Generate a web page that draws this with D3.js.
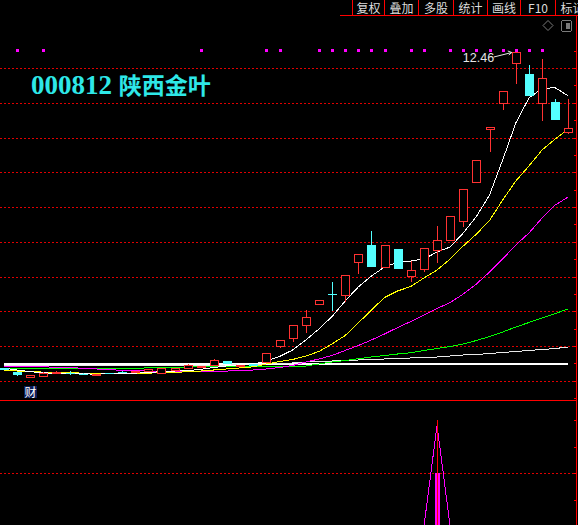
<!DOCTYPE html>
<html>
<head>
<meta charset="utf-8">
<script src="https://cdn.jsdelivr.net/npm/d3@7"></script>
<style>
  html, body { margin: 0; padding: 0; background: #000; overflow: hidden; }
  svg { display: block; }
</style>
</head>
<body>
<svg id="chart" width="578" height="525"></svg>
<script>
// Daily bars, oldest first
const openP  = [3.36,3.24,3.11,3.15,3.24,3.22,3.20,3.17,3.22,3.25,3.26,3.29,3.215,3.31,3.36,3.41,3.45,3.57,3.45,3.47,
                3.55,4.00,4.22,4.60,5.20,5.50,5.48,6.41,6.91,6.27,6.78,6.01,6.23,6.75,7.04,7.59,8.73,10.24,10.98,12.14,
                11.83,10.99,11.02,10.15];
const highP  = [3.37,3.25,3.17,3.24,3.27,3.27,3.21,3.20,3.23,3.27,3.29,3.34,3.37,3.37,3.47,3.43,3.62,3.58,3.46,3.48,
                3.79,4.17,4.60,5.04,5.32,5.84,6.04,6.65,7.31,6.91,6.78,6.45,6.81,7.45,7.74,8.51,9.36,10.30,11.33,12.46,
                12.10,12.26,11.11,11.12];
const lowP   = [3.33,3.14,3.10,3.14,3.22,3.17,3.18,3.16,3.20,3.23,3.25,3.28,3.20,3.30,3.35,3.40,3.44,3.50,3.44,3.42,
                3.51,3.93,4.12,4.37,5.20,5.02,5.28,6.06,6.28,6.25,6.25,5.85,6.12,6.38,7.04,7.43,8.70,9.59,10.79,11.53,
                11.23,10.48,10.53,10.09];
const closeP = [3.34,3.19,3.16,3.23,3.25,3.215,3.19,3.19,3.21,3.24,3.28,3.33,3.36,3.36,3.45,3.42,3.60,3.51,3.45,3.44,
                3.79,4.16,4.60,4.83,5.32,5.49,6.04,6.65,6.31,6.91,6.25,6.18,6.81,7.04,7.74,8.51,9.36,10.30,11.33,12.46,
                11.23,11.70,10.53,10.27];

// Moving averages
const ma5   = [3.36,3.31,3.26,3.23,3.21,3.20,3.20,3.19,3.20,3.21,3.22,3.24,3.26,3.28,3.29,3.33,3.38,3.43,3.46,3.48,
               3.568,3.698,3.885,4.173,4.489,4.849,5.295,5.698,6.014,6.273,6.403,6.446,6.504,6.705,6.849,7.252,7.727,8.345,9.353,10.417,
               11.137,11.41,11.433,11.194];
const ma10  = [3.30,3.28,3.26,3.25,3.24,3.23,3.22,3.21,3.21,3.21,3.21,3.22,3.23,3.24,3.26,3.28,3.31,3.34,3.37,3.40,
               3.482,3.554,3.612,3.712,3.842,4.058,4.302,4.662,5.036,5.396,5.583,5.712,5.957,6.187,6.504,6.878,7.223,7.612,8.201,8.748,
               9.180,9.640,9.957,10.245];
const ma20  = [3.42,3.42,3.41,3.40,3.39,3.38,3.36,3.34,3.32,3.30,3.29,3.28,3.27,3.27,3.26,3.26,3.27,3.28,3.29,3.31,
               3.338,3.381,3.439,3.540,3.626,3.727,3.871,4.014,4.173,4.345,4.532,4.705,4.892,5.079,5.252,5.496,5.784,6.129,6.504,6.906,
               7.252,7.683,8.058,8.288];
const ma60  = [3.36,3.36,3.36,3.36,3.355,3.355,3.355,3.355,3.36,3.36,3.36,3.37,3.38,3.39,3.395,3.40,3.405,3.41,3.41,3.41,
               3.410,3.410,3.424,3.424,3.482,3.540,3.583,3.635,3.683,3.727,3.770,3.807,3.871,3.928,3.986,4.058,4.158,4.273,4.403,4.547,
               4.676,4.806,4.935,5.065];
const ma120 = [3.45,3.45,3.45,3.45,3.45,3.45,3.45,3.45,3.45,3.45,3.45,3.45,3.45,3.45,3.45,3.45,3.45,3.45,3.46,3.47,
               3.482,3.496,3.511,3.540,3.554,3.568,3.583,3.597,3.612,3.626,3.640,3.655,3.669,3.683,3.712,3.741,3.755,3.784,3.813,3.842,
               3.871,3.899,3.928,3.971];
const ma250 = [3.48,3.48,3.48,3.48,3.48,3.48,3.48,3.48,3.48,3.48,3.48,3.48,3.48,3.48,3.48,3.48,3.48,3.48,3.48,3.48,
               3.48,3.48,3.48,3.48,3.48,3.48,3.48,3.48,3.48,3.48,3.48,3.48,3.48,3.48,3.48,3.48,3.48,3.48,3.48,3.48,
               3.48,3.48,3.48,3.48];

// Signal marks along the top of the price panel (bar indices)
const signalBars = [1,3,15,20,21,24,25,26,27,28,29,31,32,34,35,36,37,38,39,40,41];

// Lower indicator panel
const indLine  = [0,0,0,0,0,0,0,0,0,0,0,0,0,0,0,0,0,0,0,0,0,0,0,0,0,0,0,0,0,0,0,0,0,95,0,0,0,0,0,0,0,0,0,0];
const indBar   = [0,0,0,0,0,0,0,0,0,0,0,0,0,0,0,0,0,0,0,0,0,0,0,0,0,0,0,0,0,0,0,0,0,50,0,0,0,0,0,0,0,0,0,0];
const indStick = [0,0,0,0,0,0,0,0,0,0,0,0,0,0,0,0,0,0,0,0,0,0,0,0,0,0,0,0,0,0,0,0,0,100,0,0,0,0,0,0,0,0,0,0];

const priceGrid = [3,4,5,6,7,8,9,10,11,12];
const toolbarLabels = ["复权","叠加","多股","统计","画线","F10","标记"];
const stockCode = "000812";
const stockName = "陕西金叶";

// ---------------------------------------------------------------
const W = 578, H = 525;
const UP = "#ff3232", DOWN = "#54ffff", GRID = "#e00000", AXIS = "#ff0000";

const svg = d3.select("#chart").attr("shape-rendering", "crispEdges");
svg.append("rect").attr("width", W).attr("height", H).attr("fill", "#000");

// dotted rule used for the grid lines: 2px dot, 4px period
const defs = svg.append("defs");
defs.append("pattern").attr("id", "dotRule").attr("patternUnits", "userSpaceOnUse")
  .attr("width", 4).attr("height", 1)
  .append("rect").attr("width", 2).attr("height", 1).attr("fill", GRID);

const n = closeP.length;
const x = d3.scaleLinear().domain([0, n - 1]).range([3.9, 568.3]);
const y = d3.scaleLinear().domain([3, 12]).range([380.75, 68]);
const yi = d3.scaleLinear().domain([0, 100]).range([526.7, 420]);
const px = v => Math.round(v) + 0.5;

function dotRule(g, yy, x0, x1) {
  g.append("rect").attr("x", x0).attr("y", Math.round(yy)).attr("width", x1 - x0).attr("height", 1)
    .attr("fill", "url(#dotRule)");
}

// toolbar
const sepX = [352, 384, 418, 453, 487, 520, 555, 589];
const bar = svg.append("g");
bar.append("line").attr("x1", 340).attr("x2", W).attr("y1", 15.5).attr("y2", 15.5)
  .attr("stroke", AXIS);
sepX.slice(0, -1).forEach(sx => bar.append("line")
  .attr("x1", sx + 0.5).attr("x2", sx + 0.5).attr("y1", 0).attr("y2", 15).attr("stroke", AXIS));
bar.selectAll("text").data(toolbarLabels).join("text")
  .attr("x", (d, i) => (sepX[i] + sepX[i + 1]) / 2 + 0.5)
  .attr("y", 12.5)
  .attr("text-anchor", "middle")
  .attr("font-family", "'Noto Sans CJK SC', sans-serif")
  .attr("font-size", 12)
  .attr("fill", "#dcdcdc")
  .text(d => d);

// corner icons
svg.append("path").attr("d", "M548,20.5 L553,25.5 L548,30.5 L543,25.5 Z")
  .attr("fill", "none").attr("stroke", "#7a7a7a").attr("shape-rendering", "auto");
svg.append("rect").attr("x", 561.5).attr("y", 20.5).attr("width", 10).attr("height", 11)
  .attr("rx", 2).attr("fill", "none").attr("stroke", "#7a7a7a");
svg.append("rect").attr("x", 566).attr("y", 23).attr("width", 4).attr("height", 6).attr("fill", "#7a7a7a");

// price grid
const gridG = svg.append("g");
priceGrid.forEach(p => dotRule(gridG, y(p), 0, 576));

// right-hand price axis
const axisG = svg.append("g").attr("transform", "translate(576.5,0)")
  .call(d3.axisLeft(y).tickValues(d3.range(2.5, 13.01, 0.5)).tickSize(3).tickFormat(""));
axisG.select(".domain").remove();
axisG.selectAll("line").attr("stroke", AXIS);
axisG.selectAll(".tick").filter(d => d > 12.9 || d < 2.5).remove();
svg.append("line").attr("x1", 576.5).attr("x2", 576.5).attr("y1", 15).attr("y2", H).attr("stroke", AXIS);

// signal squares
svg.append("g").selectAll("rect").data(signalBars).join("rect")
  .attr("x", d => Math.round(x(d)) - 1).attr("y", 49).attr("width", 3).attr("height", 3)
  .attr("fill", "#ff00ff");

// moving averages
const line = d3.line().x((d, i) => x(i)).y(d => y(d));
const maSpec = [
  [ma250, "#ffffff", 2],
  [ma120, "#e8e8e8", 1],
  [ma60, "#00ff00", 1],
  [ma20, "#ff00ff", 1],
  [ma10, "#ffff00", 1],
  [ma5, "#ffffff", 1]
];
const maG = svg.append("g");
maSpec.forEach(([s, c, w]) => maG.append("path").attr("d", line(s))
  .attr("fill", "none").attr("stroke", c).attr("stroke-width", w));

// candlesticks
const bars = d3.range(n).map(i => ({ i, o: openP[i], h: highP[i], l: lowP[i], c: closeP[i] }));
const cg = svg.append("g");
const bodyHalf = 4;
bars.forEach(b => {
  const cx = Math.round(x(b.i));
  const up = b.c >= b.o;
  const col = up ? UP : DOWN;
  const top = Math.round(y(Math.max(b.o, b.c)));
  const bot = Math.round(y(Math.min(b.o, b.c)));
  const hy = Math.round(y(b.h)), ly = Math.round(y(b.l));
  if (up) {
    if (hy < top) cg.append("line").attr("x1", cx + 0.5).attr("x2", cx + 0.5).attr("y1", hy).attr("y2", top).attr("stroke", col);
    if (ly > bot) cg.append("line").attr("x1", cx + 0.5).attr("x2", cx + 0.5).attr("y1", bot).attr("y2", ly).attr("stroke", col);
    cg.append("rect").attr("x", cx - bodyHalf + 0.5).attr("y", top + 0.5)
      .attr("width", bodyHalf * 2).attr("height", Math.max(1, bot - top))
      .attr("fill", "#000").attr("stroke", col);
  } else {
    cg.append("line").attr("x1", cx + 0.5).attr("x2", cx + 0.5).attr("y1", hy).attr("y2", ly).attr("stroke", col);
    cg.append("rect").attr("x", cx - bodyHalf).attr("y", top)
      .attr("width", bodyHalf * 2 + 1).attr("height", Math.max(1, bot - top + 1))
      .attr("fill", col);
  }
});

// highest price marker
const hiIdx = d3.maxIndex(highP);
const hx = x(hiIdx), hyv = y(highP[hiIdx]);
svg.append("text").attr("x", hx - 53).attr("y", hyv + 9.5)
  .attr("font-family", "'Liberation Sans', Arial, sans-serif").attr("font-size", 12.5)
  .attr("fill", "#e6e6e6").text(highP[hiIdx].toFixed(2));
svg.append("path").attr("d", `M${hx - 22},${hyv + 5} L${hx - 4},${hyv + 0.5}`)
  .attr("stroke", "#e6e6e6").attr("fill", "none").attr("shape-rendering", "auto");
svg.append("path").attr("d", `M${hx - 8},${hyv - 1} L${hx - 4},${hyv + 0.5} L${hx - 7},${hyv + 3}`)
  .attr("stroke", "#e6e6e6").attr("fill", "none").attr("shape-rendering", "auto");

// title
const title = svg.append("text").attr("x", 31).attr("y", 94).attr("fill", "#2ee8e8").attr("font-weight", "bold");
title.append("tspan").attr("font-family", "'Liberation Serif', serif").attr("font-size", 27).text(stockCode + " ");
title.append("tspan").attr("font-family", "'Noto Sans CJK SC', sans-serif").attr("font-size", 23).text(stockName);

// separator between panels
svg.append("line").attr("x1", 0).attr("x2", 577).attr("y1", 400.5).attr("y2", 400.5).attr("stroke", AXIS);

// "财" tag
svg.append("rect").attr("x", 24).attr("y", 386).attr("width", 13).attr("height", 12).attr("fill", "#0b1d58");
svg.append("text").attr("x", 30.5).attr("y", 396.5).attr("text-anchor", "middle")
  .attr("font-family", "'Noto Sans CJK SC', sans-serif").attr("font-size", 12)
  .attr("fill", "#ffffff").text("财");

// lower indicator panel
const ig = svg.append("g");
ig.append("clipPath").attr("id", "ipClip").append("rect").attr("x", 0).attr("y", 401).attr("width", 576).attr("height", 124);
const ib = ig.append("g").attr("clip-path", "url(#ipClip)");
dotRule(ib, yi(50), 0, 576);
const iaxis = ig.append("g").attr("transform", "translate(576.5,0)")
  .call(d3.axisLeft(yi).tickValues([25, 50, 75, 100]).tickSize(3).tickFormat(""));
iaxis.select(".domain").remove();
iaxis.selectAll("line").attr("stroke", AXIS);
ib.selectAll("rect.bar").data(indBar.map((v, i) => ({ v, i })).filter(d => d.v > 0)).join("rect")
  .attr("class", "bar")
  .attr("x", d => Math.round(x(d.i)) - 2).attr("width", 5)
  .attr("y", d => yi(d.v)).attr("height", d => yi(0) - yi(d.v))
  .attr("fill", "#ff00ff");
ib.append("path").attr("d", d3.line().x((d, i) => x(i)).y(d => yi(d))(indLine))
  .attr("fill", "none").attr("stroke", "#ff00ff");
ib.selectAll("line.stick").data(indStick.map((v, i) => ({ v, i })).filter(d => d.v > 0)).join("line")
  .attr("class", "stick")
  .attr("x1", d => Math.round(x(d.i)) + 0.5).attr("x2", d => Math.round(x(d.i)) + 0.5)
  .attr("y1", d => yi(d.v)).attr("y2", yi(0))
  .attr("stroke", "#ff0000");
</script>
</body>
</html>
